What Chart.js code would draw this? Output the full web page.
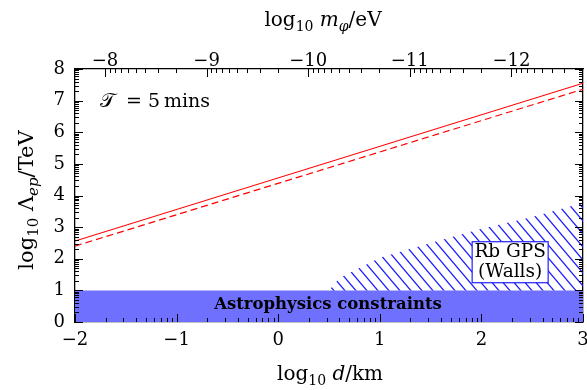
<!DOCTYPE html>
<html lang="en">
<head>
<meta charset="UTF-8">
<title>Lambda_ep vs d</title>
<script src="https://cdn.jsdelivr.net/npm/chart.js"></script>
<style>
  html, body { margin: 0; padding: 0; background: #fff; }
</style>
</head>
<body>
<canvas id="chart" width="587" height="390"></canvas>
<script>
// x: log10 d/km, y: log10 Lambda_ep/TeV
const lineX = [-2, 3];
const solidY = [2.56, 7.55];
const dashedY = [2.40, 7.36];
const astroX = [-2, 3];
const astroY = [1, 1];
const rbX = [0.5, 0.6, 1.0, 1.5, 2.0, 2.5, 3.0];
const rbY = [1.0, 1.38, 2.03, 2.5, 2.95, 3.32, 3.77];
const xTicks = [-2, -1, 0, 1, 2, 3];
const yTicks = [0, 1, 2, 3, 4, 5, 6, 7, 8];
const mTicks = [-8, -9, -10, -11, -12];
const HBARC = -9.705; // log10 m_phi/eV = HBARC - log10 d/km

const SERIF = '"DejaVu Serif", "Liberation Serif", serif';
const pts = (xs, ys) => xs.map((x, i) => ({ x: x, y: ys[i] }));
const minus = v => (v < 0 ? '\u2212' : '') + Math.abs(v);

function hatch() {
  const w = 11, h = 13;
  const c = document.createElement('canvas');
  c.width = w; c.height = h;
  const g = c.getContext('2d');
  g.strokeStyle = '#1e1eff';
  g.lineWidth = 1.3;
  g.beginPath();
  g.moveTo(-1, -h / w); g.lineTo(w + 1, h + h / w);
  g.moveTo(-1, h - h / w); g.lineTo(1, h + h / w);
  g.moveTo(w - 1, -h / w); g.lineTo(w + 1, h / w);
  g.stroke();
  return g.createPattern(c, 'repeat');
}

// log-style minor ticks between integer majors
function logTicks(a, b) {
  const lo = Math.min(a, b), hi = Math.max(a, b), out = [];
  for (let n = Math.floor(lo) - 1; n <= Math.ceil(hi); n++) {
    for (let k = 1; k <= 9; k++) {
      const v = n + Math.log10(k);
      if (v >= lo - 1e-6 && v <= hi + 1e-6) out.push({ v: v, major: k === 1 });
    }
  }
  return out;
}

function richText(ctx, parts, x, y) {
  let w = 0;
  parts.forEach(p => { ctx.font = p[1]; w += ctx.measureText(p[0]).width; });
  let cx = x - w / 2;
  parts.forEach(p => {
    ctx.font = p[1];
    ctx.fillText(p[0], cx, y + (p[2] || 0));
    cx += ctx.measureText(p[0]).width;
  });
}

const decor = {
  id: 'decor',
  afterDraw(chart) {
    const ctx = chart.ctx, a = chart.chartArea, s = chart.scales;
    ctx.save();
    ctx.strokeStyle = '#000';
    ctx.lineWidth = 1;
    ctx.beginPath();
    logTicks(s.x.min, s.x.max).forEach(t => {
      const p = Math.round(s.x.getPixelForValue(t.v)) + 0.5, L = t.major ? 8 : 4;
      ctx.moveTo(p, a.bottom); ctx.lineTo(p, a.bottom - L);
    });
    logTicks(s.x2.min, s.x2.max).forEach(t => {
      const p = Math.round(s.x2.getPixelForValue(t.v)) + 0.5, L = t.major ? 8 : 4;
      ctx.moveTo(p, a.top); ctx.lineTo(p, a.top + L);
    });
    logTicks(s.y.min, s.y.max).forEach(t => {
      const p = Math.round(s.y.getPixelForValue(t.v)) + 0.5, L = t.major ? 8 : 4;
      ctx.moveTo(a.left, p); ctx.lineTo(a.left + L, p);
      ctx.moveTo(a.right, p); ctx.lineTo(a.right - L, p);
    });
    ctx.stroke();

    ctx.fillStyle = '#000';
    ctx.textAlign = 'left';
    ctx.textBaseline = 'alphabetic';
    const R = '20px ' + SERIF, I = 'italic 20px ' + SERIF;
    const S = '14px ' + SERIF, SI = 'italic 14px ' + SERIF;
    const RL = '21px ' + SERIF, SL = '15px ' + SERIF, SIL = 'italic 15px ' + SERIF;

    // axis titles
    richText(ctx, [['log', R], ['10', S, 5], [' ', R], ['d', I], ['/km', R]], 330, 380);
    richText(ctx, [['log', R], ['10', S, 5], [' ', R], ['m', I], ['\u03c6', SI, 5], ['/eV', R]], 323, 26);
    ctx.save();
    ctx.translate(33, 200);
    ctx.rotate(-Math.PI / 2);
    richText(ctx, [['log', RL], ['10', SL, 5], [' ', RL], ['\u039b', RL], ['ep', SIL, 5], ['/TeV', RL]], 0, 0);
    ctx.restore();

    // T = 5 mins
    ctx.font = R;
    ctx.fillText('\ud835\udcaf', 100, 107);
    ctx.font = '19px ' + SERIF;
    ctx.fillText('=', 126, 107);
    ctx.fillText('5', 148, 107);
    ctx.fillText('mins', 164, 107);

    // Astrophysics label
    ctx.textAlign = 'center';
    ctx.font = 'bold 16.5px ' + SERIF;
    ctx.fillText('Astrophysics constraints', s.x.getPixelForValue(0.49), s.y.getPixelForValue(0.4));

    // Rb GPS box
    const bx = s.x.getPixelForValue(2.283), by = s.y.getPixelForValue(1.89);
    ctx.fillStyle = '#fff';
    ctx.fillRect(bx - 38, by - 20.5, 76, 41);
    ctx.strokeStyle = '#2020ff';
    ctx.lineWidth = 1.2;
    ctx.strokeRect(bx - 38, by - 20.5, 76, 41);
    ctx.fillStyle = '#000';
    ctx.font = '18.5px ' + SERIF;
    ctx.fillText('Rb GPS', bx, by - 5.5);
    ctx.fillText('(Walls)', bx, by + 14.5);
    ctx.restore();
  }
};

const tickFont = { family: SERIF, size: 18 };
const border = { display: true, color: '#000', width: 1.3 };
const noGrid = { display: false, drawTicks: false };
const noPadX = sc => { sc.paddingLeft = 0; sc.paddingRight = 0; };
const noPadY = sc => { sc.paddingTop = 0; sc.paddingBottom = 0; };

new Chart(document.getElementById('chart'), {
  type: 'scatter',
  data: {
    datasets: [
      {
        data: pts(astroX, astroY), showLine: true, pointRadius: 0, borderWidth: 0,
        backgroundColor: '#7070ff', fill: { value: 0 }, order: 4
      },
      {
        data: pts(rbX, rbY), showLine: true, pointRadius: 0, borderWidth: 0,
        backgroundColor: hatch(), fill: { value: 1 }, order: 3
      },
      {
        data: pts(lineX, dashedY), showLine: true, pointRadius: 0,
        borderColor: '#ff0000', borderWidth: 1.2, borderDash: [7, 4], fill: false, order: 2
      },
      {
        data: pts(lineX, solidY), showLine: true, pointRadius: 0,
        borderColor: '#ff0000', borderWidth: 1.2, fill: false, order: 1
      }
    ]
  },
  options: {
    responsive: false,
    animation: false,
    devicePixelRatio: 1,
    layout: { padding: 0 },
    plugins: { legend: { display: false }, tooltip: { enabled: false } },
    scales: {
      x: {
        type: 'linear', position: 'bottom', min: -2, max: 3, z: 1,
        afterBuildTicks: sc => { sc.ticks = xTicks.map(v => ({ value: v })); },
        afterFit: sc => { sc.height = 68; noPadX(sc); },
        ticks: { font: tickFont, color: '#000', padding: 8, callback: minus, maxRotation: 0 },
        grid: noGrid, border: border
      },
      x2: {
        type: 'linear', position: 'top', min: HBARC - 3, max: HBARC + 2, reverse: true, z: 1,
        afterBuildTicks: sc => { sc.ticks = mTicks.map(v => ({ value: v })); },
        afterFit: sc => { sc.height = 69; noPadX(sc); },
        ticks: { font: tickFont, color: '#000', padding: -3, callback: minus, maxRotation: 0 },
        grid: noGrid, border: border
      },
      y: {
        type: 'linear', position: 'left', min: 0, max: 8, z: 1,
        afterBuildTicks: sc => { sc.ticks = yTicks.map(v => ({ value: v })); },
        afterFit: sc => { sc.width = 75; noPadY(sc); },
        ticks: { font: tickFont, color: '#000', padding: 10, callback: minus },
        grid: noGrid, border: border
      },
      y2: {
        type: 'linear', position: 'right', min: 0, max: 8, z: 1,
        afterFit: sc => { sc.width = 4; noPadY(sc); },
        ticks: { display: false },
        grid: noGrid, border: border
      }
    }
  },
  plugins: [decor]
});
</script>
</body>
</html>
